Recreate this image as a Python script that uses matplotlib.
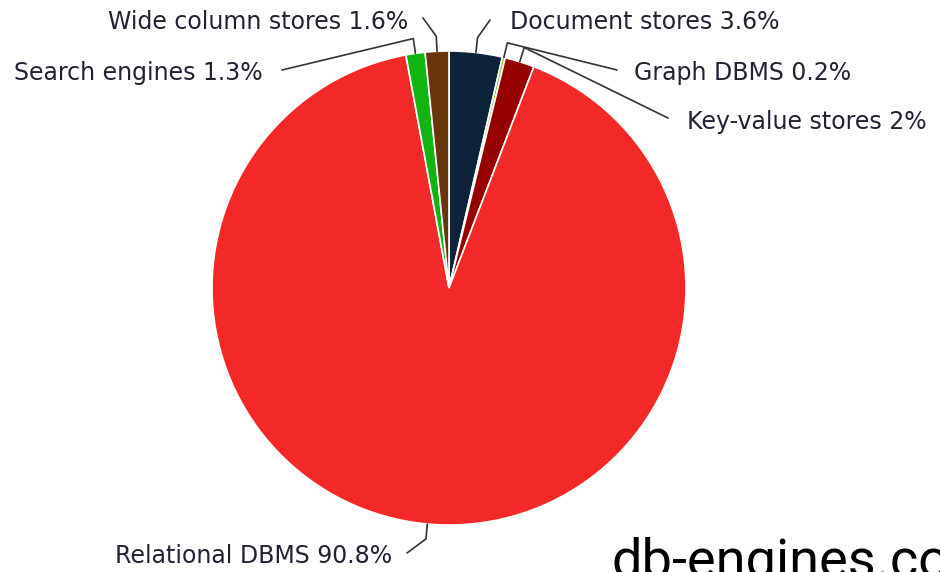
import matplotlib
matplotlib.use("Agg")
import matplotlib.pyplot as plt
import numpy as np

categories = ["Document stores", "Graph DBMS", "Key-value stores",
              "Relational DBMS", "Search engines", "Wide column stores"]
shares = [3.6, 0.2, 2.0, 90.8, 1.3, 1.6]
labels = ["Document stores 3.6%", "Graph DBMS 0.2%", "Key-value stores 2%",
          "Relational DBMS 90.8%", "Search engines 1.3%", "Wide column stores 1.6%"]
colors = ["#0d233a", "#8bbc21", "#960000", "#f32828", "#12b412", "#683409"]

W, H = 940, 572
fig = plt.figure(figsize=(W / 100, H / 100), dpi=100)
ax = fig.add_axes([0, 0, 1, 1])

cx, cy, r = 449, H - 288, 237
wedges, _ = ax.pie(shares, colors=colors, startangle=90, counterclock=False,
                   center=(cx, cy), radius=r, frame=True,
                   wedgeprops=dict(edgecolor="white", linewidth=1.2))
ax.set_xlim(0, W)
ax.set_ylim(0, H)
ax.set_aspect("equal")
ax.axis("off")

# label layout (pixel coords from top): text x, text y, alignment, connector end
layout = {
    "Document stores": (510, 22, "left", (490, 20)),
    "Graph DBMS": (634, 73, "left", (617, 70)),
    "Key-value stores": (687, 122, "left", (668, 118)),
    "Relational DBMS": (392, 556, "right", (407, 553)),
    "Search engines": (263, 73, "right", (282, 70)),
    "Wide column stores": (408, 22, "right", (423, 18)),
}

for w, cat, lab in zip(wedges, categories, labels):
    ang = np.deg2rad((w.theta1 + w.theta2) / 2)
    p0 = (cx + r * np.cos(ang), cy + r * np.sin(ang))
    p1 = (cx + (r + 15) * np.cos(ang), cy + (r + 15) * np.sin(ang))
    tx, ty, ha, (ex, ey) = layout[cat]
    ax.plot([p0[0], p1[0], ex], [p0[1], p1[1], H - ey], color="#333333",
            lw=1.2, solid_capstyle="round", zorder=3)
    ax.text(tx, H - ty, lab, ha=ha, va="center", fontsize=17,
            family="DejaVu Sans", color="#222233")

ax.text(612, H - 577, "db-engines.com", ha="left", va="baseline",
        fontsize=39, family="Roboto", color="black")

fig.savefig("out.png", dpi=100)
